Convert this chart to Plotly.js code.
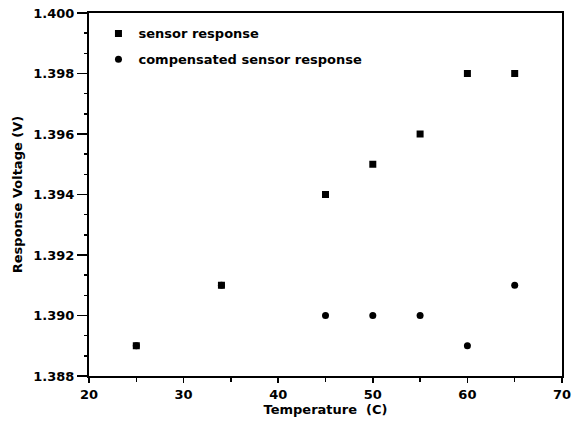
<!DOCTYPE html>
<html><head><meta charset="utf-8">
<script src="https://cdn.plot.ly/plotly-3.0.1.min.js"></script>
<style>html,body{margin:0;padding:0;background:#fff}#chart{width:583px;height:431px}</style>
</head><body><div id="chart"></div>
<script>
const temperature = [25, 34, 45, 50, 55, 60, 65];
const sensorResponse = [1.389, 1.391, 1.394, 1.395, 1.396, 1.398, 1.398];
const compensatedResponse = [1.389, 1.391, 1.390, 1.390, 1.390, 1.389, 1.391];
const seriesNames = ['sensor response', 'compensated sensor response'];

const fontFam = 'DejaVu Sans, Verdana, sans-serif';
const data = [
  {x: temperature, y: sensorResponse, name: seriesNames[0], mode: 'markers', type: 'scatter', legendgroup: 'a',
   marker: {symbol: 'square', size: 7, color: '#000'}},
  {x: temperature, y: compensatedResponse, name: seriesNames[1], mode: 'markers', type: 'scatter', legendgroup: 'b',
   marker: {symbol: 'circle', size: 7, color: '#000'}}
];
const layout = {
  width: 583, height: 431,
  margin: {l: 89, r: 21, t: 13, b: 55},
  paper_bgcolor: '#fff', plot_bgcolor: '#fff',
  font: {family: fontFam, color: '#000', size: 13, weight: 'bold'},
  showlegend: true,
  legend: {x: 0.02, y: 0.985, xanchor: 'left', yanchor: 'top', bgcolor: 'rgba(0,0,0,0)',
           font: {size: 13, family: fontFam, weight: 'bold'}, tracegroupgap: 6},
  xaxis: {range: [20, 70], dtick: 10, tick0: 20, showgrid: false, zeroline: false,
          showline: true, linecolor: '#000', linewidth: 2, mirror: true,
          ticks: 'outside', ticklen: 5, tickwidth: 1.5, tickcolor: '#000',
          minor: {dtick: 5, ticks: 'outside', ticklen: 4, tickcolor: '#000', showgrid: false},
          tickfont: {size: 13, weight: 'bold'},
          title: {text: 'Temperature  (C)', font: {size: 13, weight: 'bold'}, standoff: 4}},
  yaxis: {range: [1.388, 1.400], dtick: 0.002, tick0: 1.388, tickformat: '.3f', showgrid: false, zeroline: false,
          showline: true, linecolor: '#000', linewidth: 2, mirror: true,
          ticks: 'outside', ticklen: 10, tickwidth: 1.5, tickcolor: '#000',
          minor: {dtick: 0.002/3, ticks: 'outside', ticklen: 3, tickcolor: '#000', showgrid: false},
          tickfont: {size: 13, weight: 'bold'},
          title: {text: 'Response Voltage (V)', font: {size: 13, weight: 'bold'}, standoff: 8}}
};
Plotly.newPlot('chart', data, layout, {displayModeBar: false, staticPlot: true});
</script></body></html>
